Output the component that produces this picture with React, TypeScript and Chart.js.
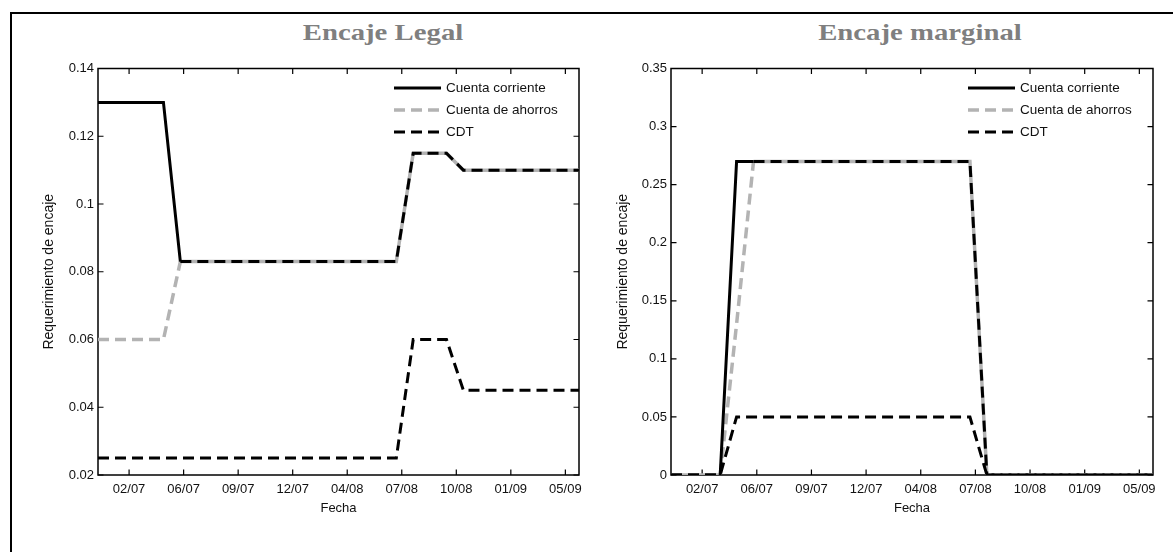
import React, { useEffect, useRef } from 'react';
import { Chart, registerables } from 'chart.js';

Chart.register(...registerables);

// Monthly observations (first day of each month), Jan 2007 .. Jun 2009
const months = [
  '2007-01', '2007-02', '2007-03', '2007-04', '2007-05', '2007-06',
  '2007-07', '2007-08', '2007-09', '2007-10', '2007-11', '2007-12',
  '2008-01', '2008-02', '2008-03', '2008-04', '2008-05', '2008-06',
  '2008-07', '2008-08', '2008-09', '2008-10', '2008-11', '2008-12',
  '2009-01', '2009-02', '2009-03', '2009-04', '2009-05', '2009-06',
];

// Encaje Legal
const legalCuentaCorriente = [
  0.13, 0.13, 0.13, 0.13, 0.13, 0.083,
  0.083, 0.083, 0.083, 0.083, 0.083, 0.083,
  0.083, 0.083, 0.083, 0.083, 0.083, 0.083,
  0.083, 0.115, 0.115, 0.115, 0.11, 0.11,
  0.11, 0.11, 0.11, 0.11, 0.11, 0.11,
];
const legalCuentaAhorros = [
  0.06, 0.06, 0.06, 0.06, 0.06, 0.083,
  0.083, 0.083, 0.083, 0.083, 0.083, 0.083,
  0.083, 0.083, 0.083, 0.083, 0.083, 0.083,
  0.083, 0.115, 0.115, 0.115, 0.11, 0.11,
  0.11, 0.11, 0.11, 0.11, 0.11, 0.11,
];
const legalCDT = [
  0.025, 0.025, 0.025, 0.025, 0.025, 0.025,
  0.025, 0.025, 0.025, 0.025, 0.025, 0.025,
  0.025, 0.025, 0.025, 0.025, 0.025, 0.025,
  0.025, 0.06, 0.06, 0.06, 0.045, 0.045,
  0.045, 0.045, 0.045, 0.045, 0.045, 0.045,
];

// Encaje marginal
const marginalCuentaCorriente = [
  0, 0, 0, 0, 0.27, 0.27,
  0.27, 0.27, 0.27, 0.27, 0.27, 0.27,
  0.27, 0.27, 0.27, 0.27, 0.27, 0.27,
  0.27, 0, 0, 0, 0, 0,
  0, 0, 0, 0, 0, 0,
];
const marginalCuentaAhorros = [
  0, 0, 0, 0, 0.13, 0.27,
  0.27, 0.27, 0.27, 0.27, 0.27, 0.27,
  0.27, 0.27, 0.27, 0.27, 0.27, 0.27,
  0.27, 0, 0, 0, 0, 0,
  0, 0, 0, 0, 0, 0,
];
const marginalCDT = [
  0, 0, 0, 0, 0.05, 0.05,
  0.05, 0.05, 0.05, 0.05, 0.05, 0.05,
  0.05, 0.05, 0.05, 0.05, 0.05, 0.05,
  0.05, 0, 0, 0, 0, 0,
  0, 0, 0, 0, 0, 0,
];

// x ticks (every 100 days) and their labels
const xTickDates = [
  '2007-02-27', '2007-06-07', '2007-09-15', '2007-12-24', '2008-04-02',
  '2008-07-11', '2008-10-19', '2009-01-27', '2009-05-07',
];
const xTickLabels = ['02/07', '06/07', '09/07', '12/07', '04/08', '07/08', '10/08', '01/09', '05/09'];

const legalYTicks = [0.02, 0.04, 0.06, 0.08, 0.1, 0.12, 0.14];
const legalYTickLabels = ['0.02', '0.04', '0.06', '0.08', '0.1', '0.12', '0.14'];
const marginalYTicks = [0, 0.05, 0.1, 0.15, 0.2, 0.25, 0.3, 0.35];
const marginalYTickLabels = ['0', '0.05', '0.1', '0.15', '0.2', '0.25', '0.3', '0.35'];

const seriesLabels = ['Cuenta corriente', 'Cuenta de ahorros', 'CDT'];

const EPOCH = Date.UTC(2007, 0, 1);
const dayOf = (s: string) => {
  const [y, m, d] = s.split('-').map(Number);
  return (Date.UTC(y, m - 1, d || 1) - EPOCH) / 86400000;
};

const FONT = '"Liberation Sans", Arial, Helvetica, sans-serif';
const TEXT = '#111';

const frameAndTicks = {
  id: 'frameAndTicks',
  beforeDatasetsDraw(chart: any) {
    const { ctx, chartArea: a, scales } = chart;
    ctx.save();
    ctx.strokeStyle = '#000';
    ctx.lineWidth = 1.5;
    ctx.strokeRect(a.left, a.top, a.right - a.left, a.bottom - a.top);
    ctx.lineWidth = 1.2;
    const L = 5.5;
    ctx.beginPath();
    for (const t of scales.x.ticks) {
      const px = scales.x.getPixelForValue(t.value);
      ctx.moveTo(px, a.bottom);
      ctx.lineTo(px, a.bottom - L);
      ctx.moveTo(px, a.top);
      ctx.lineTo(px, a.top + L);
    }
    for (const t of scales.y.ticks) {
      const py = scales.y.getPixelForValue(t.value);
      ctx.moveTo(a.left, py);
      ctx.lineTo(a.left + L, py);
      ctx.moveTo(a.right, py);
      ctx.lineTo(a.right - L, py);
    }
    ctx.stroke();
    ctx.restore();
  },
};

const insideLegend = {
  id: 'insideLegend',
  afterDraw(chart: any) {
    const { ctx, chartArea: a } = chart;
    ctx.save();
    ctx.font = `13.5px ${FONT}`;
    ctx.textBaseline = 'middle';
    ctx.textAlign = 'left';
    chart.data.datasets.forEach((ds: any, i: number) => {
      const y = a.top + 19.5 + i * 22;
      const x0 = a.right - 185;
      const x1 = a.right - 138;
      ctx.strokeStyle = ds.borderColor;
      ctx.lineWidth = ds.borderWidth;
      ctx.setLineDash(ds.borderDash || []);
      ctx.beginPath();
      ctx.moveTo(x0, y);
      ctx.lineTo(x1, y);
      ctx.stroke();
      ctx.setLineDash([]);
      ctx.fillStyle = TEXT;
      ctx.fillText(ds.label, x1 + 5, y + 0.5);
    });
    ctx.restore();
  },
};

function buildConfig(
  cc: number[], ah: number[], cdt: number[],
  yMin: number, yMax: number, yTicks: number[], yTickLabels: string[],
  padLeft: number, yAxisWidth: number, padRight: number,
): any {
  const xs = months.map(dayOf);
  const tickDays = xTickDates.map(dayOf);
  const pts = (vals: number[]) => vals.map((v, i) => ({ x: xs[i], y: v }));
  const shared = (i: number, j: number) => cc[i] === ah[i] && cc[j] === ah[j];
  return {
    type: 'line',
    data: {
      datasets: [
        {
          label: seriesLabels[0], data: pts(cc), borderColor: '#000', borderWidth: 3,
          borderDash: [], order: 1,
          segment: { borderDash: (c: any) => (shared(c.p0DataIndex, c.p1DataIndex) ? [11, 6] : undefined) },
        },
        {
          label: seriesLabels[1], data: pts(ah), borderColor: '#b3b3b3', borderWidth: 3.5,
          borderDash: [11, 6], order: 2,
          segment: { borderDash: (c: any) => (shared(c.p0DataIndex, c.p1DataIndex) ? [] : undefined) },
        },
        {
          label: seriesLabels[2], data: pts(cdt), borderColor: '#000', borderWidth: 3,
          borderDash: [11, 6], order: 0,
        },
      ],
    },
    options: {
      animation: false,
      responsive: false,
      devicePixelRatio: 1,
      layout: { padding: { left: padLeft, right: padRight, top: 68.5, bottom: 36 } },
      elements: { point: { radius: 0 }, line: { tension: 0, fill: false } },
      plugins: { legend: { display: false }, tooltip: { enabled: false } },
      scales: {
        x: {
          type: 'linear', min: xs[0], max: xs[xs.length - 1],
          grid: { display: false, drawTicks: false },
          border: { display: false },
          afterBuildTicks: (s: any) => { s.ticks = tickDays.map((v) => ({ value: v })); },
          afterFit: (s: any) => { s.height = 41; },
          ticks: {
            autoSkip: false, maxRotation: 0, minRotation: 0, padding: 7,
            font: { size: 13, family: FONT }, color: TEXT,
            callback: (_v: any, i: number) => xTickLabels[i],
          },
          title: { display: true, text: 'Fecha', font: { size: 13, family: FONT }, color: TEXT, padding: 0 },
        },
        y: {
          type: 'linear', min: yMin, max: yMax,
          grid: { display: false, drawTicks: false },
          border: { display: false },
          afterBuildTicks: (s: any) => { s.ticks = yTicks.map((v) => ({ value: v })); },
          afterFit: (s: any) => { s.width = yAxisWidth; },
          ticks: {
            padding: 4, font: { size: 13, family: FONT }, color: TEXT,
            callback: (_v: any, i: number) => yTickLabels[i],
          },
          title: {
            display: true, text: 'Requerimiento de encaje',
            font: { size: 14, family: FONT }, color: TEXT, padding: 0,
          },
        },
      },
    },
    plugins: [frameAndTicks, insideLegend],
  };
}

const titleStyle = (cx: number): React.CSSProperties => ({
  position: 'absolute',
  left: cx - 200,
  top: 21,
  width: 400,
  textAlign: 'center',
  font: 'bold 23px "Liberation Serif", "Times New Roman", serif',
  lineHeight: '23px',
  color: '#7f7f7f',
  transform: 'scaleX(1.25)',
  transformOrigin: '50% 50%',
  whiteSpace: 'nowrap',
});

export default function App() {
  const leftRef = useRef<HTMLCanvasElement>(null);
  const rightRef = useRef<HTMLCanvasElement>(null);

  useEffect(() => {
    const c1 = new Chart(
      leftRef.current as HTMLCanvasElement,
      buildConfig(legalCuentaCorriente, legalCuentaAhorros, legalCDT,
        0.02, 0.14, legalYTicks, legalYTickLabels, 41, 57, 11),
    );
    const c2 = new Chart(
      rightRef.current as HTMLCanvasElement,
      buildConfig(marginalCuentaCorriente, marginalCuentaAhorros, marginalCDT,
        0, 0.35, marginalYTicks, marginalYTickLabels, 25, 56, 20),
    );
    return () => {
      c1.destroy();
      c2.destroy();
    };
  }, []);

  return (
    <div style={{ position: 'absolute', left: 0, top: 0, width: 1173, height: 552, overflow: 'hidden', background: '#fff' }}>
      <div style={{ position: 'absolute', left: 10, top: 12, width: 1300, height: 700, border: '2px solid #000' }} />
      <div style={titleStyle(382.5)}>Encaje Legal</div>
      <div style={titleStyle(920)}>Encaje marginal</div>
      <canvas ref={leftRef} width={590} height={552} style={{ position: 'absolute', left: 0, top: 0 }} />
      <canvas ref={rightRef} width={583} height={552} style={{ position: 'absolute', left: 590, top: 0 }} />
    </div>
  );
}
